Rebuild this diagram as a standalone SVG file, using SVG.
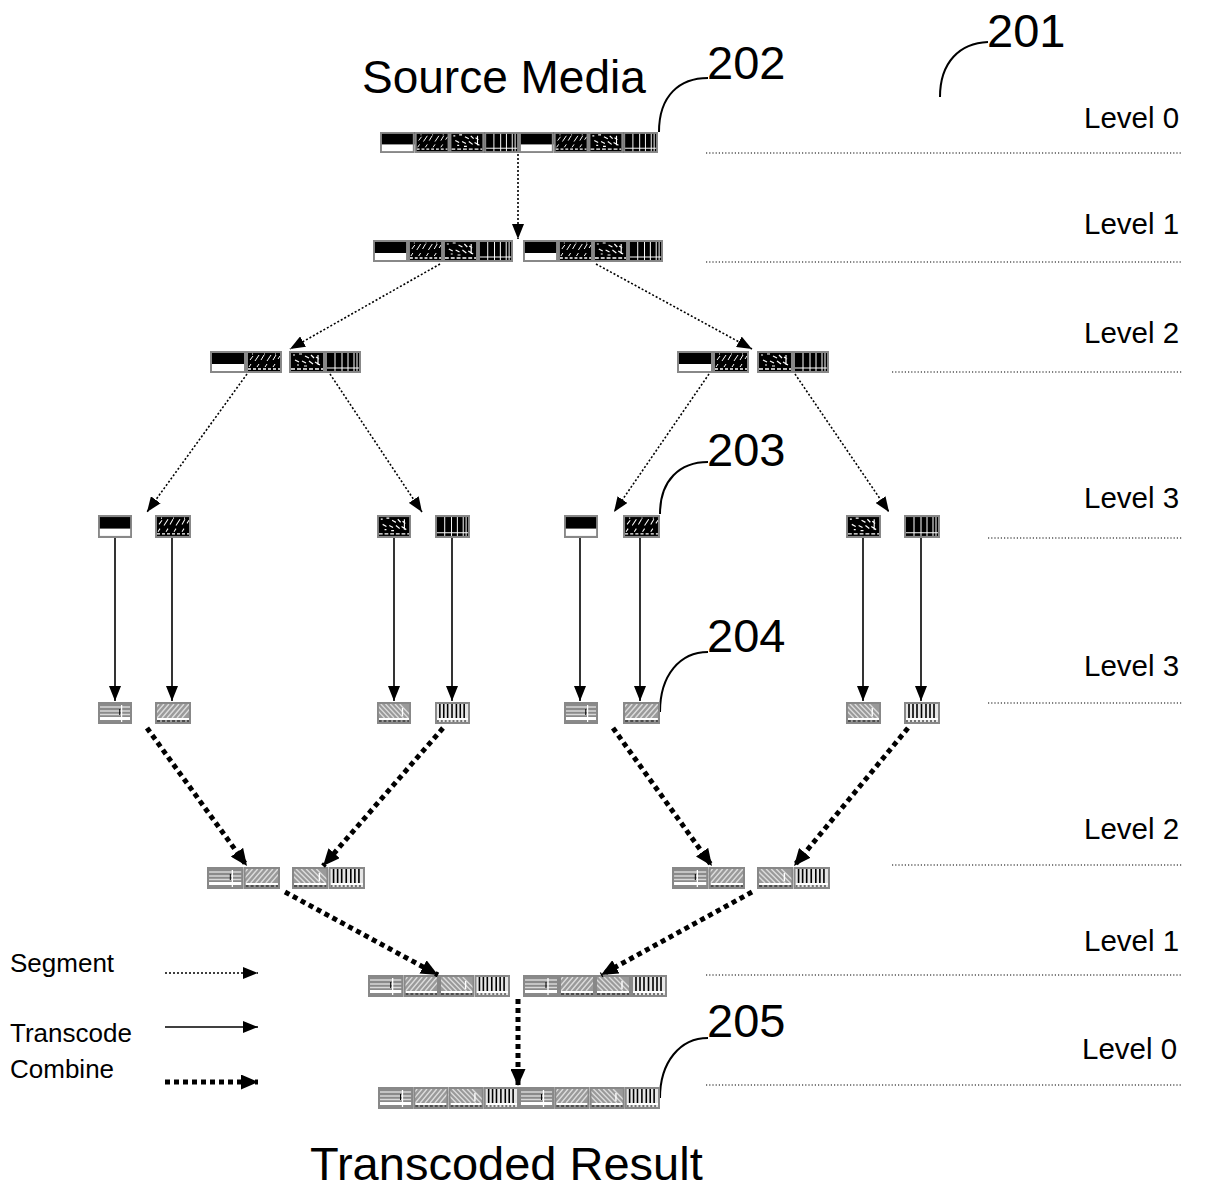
<svg xmlns="http://www.w3.org/2000/svg" xmlns:xlink="http://www.w3.org/1999/xlink" width="1217" height="1189" viewBox="0 0 1217 1189">
<style>
text{font-family:"Liberation Sans",Arial,sans-serif;fill:#000}
.big{font-size:46px}
.big2{font-size:47px}
.num{font-size:47px}
.lv{font-size:29.5px}
.lg{font-size:26px}
.seg{stroke:#000;stroke-width:1.6;stroke-dasharray:2 2;fill:none;marker-end:url(#ah)}
.tr{stroke:#000;stroke-width:1.6;fill:none;marker-end:url(#ah)}
.cmb{stroke:#000;stroke-width:5;stroke-dasharray:5 4;fill:none;marker-end:url(#ahb)}
.lead{stroke:#000;stroke-width:2;fill:none}
.lvl{stroke:#000;stroke-width:1.2;stroke-dasharray:1.2 2;fill:none}
</style>
<defs>
<marker id="ah" viewBox="0 0 10 10" refX="10" refY="5" markerWidth="15" markerHeight="12" markerUnits="userSpaceOnUse" orient="auto" preserveAspectRatio="none"><path d="M0,0 L10,5 L0,10 z" fill="#000"/></marker>
<marker id="ahb" viewBox="0 0 10 10" refX="10" refY="5" markerWidth="17" markerHeight="15" markerUnits="userSpaceOnUse" orient="auto" preserveAspectRatio="none"><path d="M0,0 L10,5 L0,10 z" fill="#000"/></marker>
<symbol id="sA" viewBox="0 0 36 22" preserveAspectRatio="none">
<rect width="36" height="22" fill="#fff"/><rect width="36" height="13" fill="#000"/>
<rect x="1" y="1" width="34" height="20" fill="none" stroke="#888" stroke-width="2"/>
</symbol>
<symbol id="sB" viewBox="0 0 36 22" preserveAspectRatio="none">
<rect width="36" height="22" fill="#000"/>
<path d="M4,9 l3,-4 M9,10 l4,-6 M15,9 l3,-5 M21,10 l4,-6 M27,9 l3,-5 M32,8 l2,-3 M6,3 h1 M18,3 h1 M29,3 h1 M3,16 l2,-3 M11,16 l2,-3 M19,16 l2,-3 M27,16 l2,-3" stroke="#fff" stroke-width="1"/>
<path d="M2,18 H34" stroke="#fff" stroke-width="1.3" stroke-dasharray="3 2"/>
<rect x="1" y="1" width="34" height="20" fill="none" stroke="#888" stroke-width="2"/>
</symbol>
<symbol id="sC" viewBox="0 0 36 22" preserveAspectRatio="none">
<rect width="36" height="22" fill="#000"/>
<path d="M4,4 h2 M10,3 h3 M16,5 l4,2 M22,4 l3,3 M27,6 l3,2 M6,9 l4,2 M13,10 l4,2 M20,10 l4,3 M26,11 l5,3 M29,4 v10 M8,14 h2 M15,15 h3" stroke="#fff" stroke-width="1.2"/>
<path d="M2,18 H34" stroke="#fff" stroke-width="1.3" stroke-dasharray="4 2"/>
<rect x="1" y="1" width="34" height="20" fill="none" stroke="#888" stroke-width="2"/>
</symbol>
<symbol id="sD" viewBox="0 0 36 22" preserveAspectRatio="none">
<rect width="36" height="22" fill="#000"/>
<path d="M10,1 V21 M17,1 V21 M23,1 V21 M29,1 V21 M32,1 V21" stroke="#fff" stroke-width="1"/>
<path d="M1,17 H35" stroke="#fff" stroke-width="1"/>
<rect x="1" y="1" width="34" height="20" fill="none" stroke="#888" stroke-width="2"/>
</symbol>
<symbol id="tA" viewBox="0 0 36 22" preserveAspectRatio="none">
<rect width="36" height="22" fill="#8a8a8a"/>
<path d="M2,5 H34 M2,9 H34 M2,12.5 H34" stroke="#d8d8d8" stroke-width="1.3"/>
<rect x="2" y="15" width="32" height="3" fill="#fff"/>
<path d="M25,3 V20" stroke="#fff" stroke-width="1.3"/>
<path d="M23,7 V13" stroke="#000" stroke-width="1"/>
<rect x="1" y="1" width="34" height="20" fill="none" stroke="#888" stroke-width="2"/>
</symbol>
<symbol id="tB" viewBox="0 0 36 22" preserveAspectRatio="none">
<rect width="36" height="22" fill="#9a9a9a"/>
<path d="M-8,16 l12,-14 M-3,16 l12,-14 M2,16 l12,-14 M7,16 l12,-14 M12,16 l12,-14 M17,16 l12,-14 M22,16 l12,-14 M27,16 l12,-14" stroke="#dcdcdc" stroke-width="1.4"/>
<rect x="2" y="16" width="32" height="2" fill="#fff"/>
<path d="M2,19 H34" stroke="#000" stroke-width="1" stroke-dasharray="3 2"/>
<rect x="1" y="1" width="34" height="20" fill="none" stroke="#888" stroke-width="2"/>
</symbol>
<symbol id="tC" viewBox="0 0 36 22" preserveAspectRatio="none">
<rect width="36" height="22" fill="#9a9a9a"/>
<path d="M-6,2 l14,14 M-1,2 l14,14 M4,2 l14,14 M9,2 l14,14 M14,2 l14,14 M19,2 l14,14 M24,2 l12,12" stroke="#dcdcdc" stroke-width="1.4"/>
<path d="M27,6 v8" stroke="#fff" stroke-width="1.4"/>
<rect x="2" y="16" width="32" height="2" fill="#fff"/>
<path d="M2,19 H34" stroke="#000" stroke-width="1" stroke-dasharray="3 2"/>
<rect x="1" y="1" width="34" height="20" fill="none" stroke="#888" stroke-width="2"/>
</symbol>
<symbol id="tD" viewBox="0 0 36 22" preserveAspectRatio="none">
<rect width="36" height="22" fill="#e6e6e6"/>
<path d="M5,2 V17 M9,2 V17 M13,2 V17 M17.5,2 V17 M22,2 V17 M26,2 V17 M30,2 V17" stroke="#000" stroke-width="1.6"/>
<rect x="2" y="16" width="32" height="2" fill="#fff"/>
<path d="M2,19 H34" stroke="#000" stroke-width="1" stroke-dasharray="2 2"/>
<rect x="1" y="1" width="34" height="20" fill="none" stroke="#888" stroke-width="2"/>
</symbol>
</defs>
<rect width="1217" height="1189" fill="#fff"/>

<g id="titles">
<text class="big" x="362" y="93">Source Media</text>
<text class="big2" x="310" y="1180">Transcoded Result</text>
</g>

<g id="refs">
<text class="num" x="707" y="79">202</text>
<text class="num" x="987" y="47">201</text>
<text class="num" x="707" y="466">203</text>
<text class="num" x="707" y="652">204</text>
<text class="num" x="707" y="1037">205</text>
<path class="lead" d="M659,132 C659,95 680,78 708,78"/>
<path class="lead" d="M940,97 C940,62 960,43 988,42"/>
<path class="lead" d="M660,514 C660,480 680,462 708,462"/>
<path class="lead" d="M660,712 C660,675 680,652 708,652"/>
<path class="lead" d="M660,1098 C660,1062 680,1038 708,1038"/>
</g>

<g id="levels">
<text class="lv" x="1084" y="128">Level 0</text>
<text class="lv" x="1084" y="234">Level 1</text>
<text class="lv" x="1084" y="343">Level 2</text>
<text class="lv" x="1084" y="508">Level 3</text>
<text class="lv" x="1084" y="676">Level 3</text>
<text class="lv" x="1084" y="839">Level 2</text>
<text class="lv" x="1084" y="951">Level 1</text>
<text class="lv" x="1082" y="1059">Level 0</text>
<path class="lvl" d="M706,153 H1182 M706,262 H1182 M892,372 H1182 M988,538 H1182 M988,703 H1182 M892,865 H1182 M706,975 H1182 M706,1085 H1182"/>
</g>

<g id="src-l0">
<use href="#sA" x="380" y="132" width="34.75" height="21"/>
<use href="#sB" x="414.75" y="132" width="34.75" height="21"/>
<use href="#sC" x="449.5" y="132" width="34.75" height="21"/>
<use href="#sD" x="484.25" y="132" width="34.75" height="21"/>
<use href="#sA" x="519" y="132" width="34.75" height="21"/>
<use href="#sB" x="553.75" y="132" width="34.75" height="21"/>
<use href="#sC" x="588.5" y="132" width="34.75" height="21"/>
<use href="#sD" x="623.25" y="132" width="34.75" height="21"/>
</g>
<g id="src-l1-left">
<use href="#sA" x="373" y="240" width="35" height="22"/>
<use href="#sB" x="408" y="240" width="35" height="22"/>
<use href="#sC" x="443" y="240" width="35" height="22"/>
<use href="#sD" x="478" y="240" width="35" height="22"/>
</g>
<g id="src-l1-right">
<use href="#sA" x="523" y="240" width="35" height="22"/>
<use href="#sB" x="558" y="240" width="35" height="22"/>
<use href="#sC" x="593" y="240" width="35" height="22"/>
<use href="#sD" x="628" y="240" width="35" height="22"/>
</g>
<g id="src-l2-a"><use href="#sA" x="210" y="351" width="36" height="22"/><use href="#sB" x="246" y="351" width="36" height="22"/></g>
<g id="src-l2-b"><use href="#sC" x="289" y="351" width="36" height="22"/><use href="#sD" x="325" y="351" width="36" height="22"/></g>
<g id="src-l2-c"><use href="#sA" x="677" y="351" width="36" height="22"/><use href="#sB" x="713" y="351" width="36" height="22"/></g>
<g id="src-l2-d"><use href="#sC" x="757" y="351" width="36" height="22"/><use href="#sD" x="793" y="351" width="36" height="22"/></g>
<g id="src-l3-1"><use href="#sA" x="98" y="515" width="34" height="23"/></g>
<g id="src-l3-2"><use href="#sB" x="155" y="515" width="36" height="23"/></g>
<g id="src-l3-3"><use href="#sC" x="377" y="515" width="34" height="23"/></g>
<g id="src-l3-4"><use href="#sD" x="435" y="515" width="35" height="23"/></g>
<g id="src-l3-5"><use href="#sA" x="564" y="515" width="34" height="23"/></g>
<g id="src-l3-6"><use href="#sB" x="623" y="515" width="37" height="23"/></g>
<g id="src-l3-7"><use href="#sC" x="846" y="515" width="35" height="23"/></g>
<g id="src-l3-8"><use href="#sD" x="904" y="515" width="36" height="23"/></g>

<g id="tc-l3-1"><use href="#tA" x="98" y="702" width="34" height="22"/></g>
<g id="tc-l3-2"><use href="#tB" x="155" y="702" width="36" height="22"/></g>
<g id="tc-l3-3"><use href="#tC" x="377" y="702" width="34" height="22"/></g>
<g id="tc-l3-4"><use href="#tD" x="435" y="702" width="35" height="22"/></g>
<g id="tc-l3-5"><use href="#tA" x="564" y="702" width="34" height="22"/></g>
<g id="tc-l3-6"><use href="#tB" x="623" y="702" width="37" height="22"/></g>
<g id="tc-l3-7"><use href="#tC" x="846" y="702" width="35" height="22"/></g>
<g id="tc-l3-8"><use href="#tD" x="904" y="702" width="36" height="22"/></g>
<g id="tc-l2-a"><use href="#tA" x="207" y="867" width="36.5" height="22"/><use href="#tB" x="243.5" y="867" width="36.5" height="22"/></g>
<g id="tc-l2-b"><use href="#tC" x="292" y="867" width="36.5" height="22"/><use href="#tD" x="328.5" y="867" width="36.5" height="22"/></g>
<g id="tc-l2-c"><use href="#tA" x="672" y="867" width="36.5" height="22"/><use href="#tB" x="708.5" y="867" width="36.5" height="22"/></g>
<g id="tc-l2-d"><use href="#tC" x="757" y="867" width="36.5" height="22"/><use href="#tD" x="793.5" y="867" width="36.5" height="22"/></g>
<g id="tc-l1-left">
<use href="#tA" x="368" y="975" width="35.5" height="22"/>
<use href="#tB" x="403.5" y="975" width="35.5" height="22"/>
<use href="#tC" x="439" y="975" width="35.5" height="22"/>
<use href="#tD" x="474.5" y="975" width="35.5" height="22"/>
</g>
<g id="tc-l1-right">
<use href="#tA" x="523" y="975" width="36" height="22"/>
<use href="#tB" x="559" y="975" width="36" height="22"/>
<use href="#tC" x="595" y="975" width="36" height="22"/>
<use href="#tD" x="631" y="975" width="36" height="22"/>
</g>
<g id="tc-l0">
<use href="#tA" x="378" y="1087" width="35.25" height="22"/>
<use href="#tB" x="413.25" y="1087" width="35.25" height="22"/>
<use href="#tC" x="448.5" y="1087" width="35.25" height="22"/>
<use href="#tD" x="483.75" y="1087" width="35.25" height="22"/>
<use href="#tA" x="519" y="1087" width="35.25" height="22"/>
<use href="#tB" x="554.25" y="1087" width="35.25" height="22"/>
<use href="#tC" x="589.5" y="1087" width="35.25" height="22"/>
<use href="#tD" x="624.75" y="1087" width="35.25" height="22"/>
</g>

<g id="connectors">
<path class="seg" d="M518,154 V239"/>
<path class="seg" d="M440,264 L290,349"/>
<path class="seg" d="M596,264 L752,349"/>
<path class="seg" d="M247,374 L147,512"/>
<path class="seg" d="M330,374 L422,512"/>
<path class="seg" d="M709,374 L614,512"/>
<path class="seg" d="M795,374 L889,512"/>
<path class="tr" d="M115,538 V701"/>
<path class="tr" d="M172,538 V701"/>
<path class="tr" d="M394,538 V701"/>
<path class="tr" d="M452,538 V701"/>
<path class="tr" d="M580,538 V701"/>
<path class="tr" d="M640,538 V701"/>
<path class="tr" d="M863,538 V701"/>
<path class="tr" d="M921,538 V701"/>
<path class="cmb" d="M147,728 L247,866"/>
<path class="cmb" d="M443,728 L323,866"/>
<path class="cmb" d="M613,728 L712,866"/>
<path class="cmb" d="M908,728 L794,866"/>
<path class="cmb" d="M285,892 L438,975"/>
<path class="cmb" d="M752,892 L601,975"/>
<path class="cmb" d="M518,999 V1086"/>
</g>

<g id="legend">
<text class="lg" x="10" y="972">Segment</text>
<text class="lg" x="10" y="1042">Transcode</text>
<text class="lg" x="10" y="1078">Combine</text>
<path class="seg" d="M165,973 H258"/>
<path class="tr" d="M165,1027 H258"/>
<path class="cmb" d="M165,1082 H258"/>
</g>
</svg>
